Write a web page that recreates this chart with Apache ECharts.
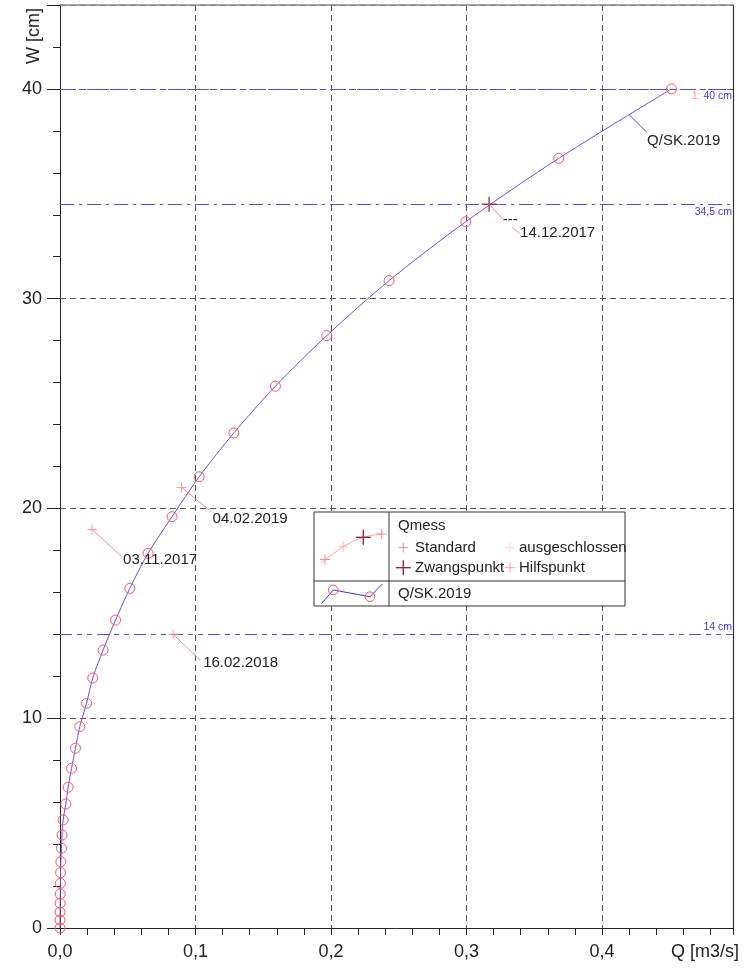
<!DOCTYPE html>
<html><head><meta charset="utf-8">
<script src="https://cdn.jsdelivr.net/npm/echarts@6/dist/echarts.min.js"></script>
<style>html,body{margin:0;padding:0;background:#fff}#c{width:748px;height:969px}</style>
</head><body><div id="c"></div>
<script>
// ---- data ----
const curveQ = [0, 0, 0.0001, 0.0001, 0.0002, 0.0003, 0.0004, 0.0006, 0.0011, 0.0015, 0.0023, 0.0043, 0.0060, 0.0085, 0.0114, 0.0146, 0.0196, 0.0242, 0.0318, 0.0410, 0.0515, 0.0650, 0.0827, 0.1027, 0.1283, 0.1590, 0.1969, 0.2429, 0.2995, 0.3681, 0.4513];
const curveW = [0, 0.38, 0.76, 1.18, 1.62, 2.13, 2.64, 3.16, 3.80, 4.43, 5.15, 5.91, 6.71, 7.61, 8.57, 9.60, 10.71, 11.92, 13.25, 14.68, 16.19, 17.86, 19.61, 21.51, 23.60, 25.83, 28.24, 30.86, 33.67, 36.69, 40.0];
const curveName = 'Q/SK.2019';
const curveLabelQ = [0.420];
const curveLabelW = [38.77];

const messQ = [0.0897, 0.0237, 0.0835];
const messW = [21.0, 19.0, 14.0];
const messDates = ['04.02.2019', '03.11.2017', '16.02.2018'];

const zwangQ = [0.3167];
const zwangW = [34.5];
const zwangDates = ['14.12.2017'];

const refLevels = [40, 34.5, 14, 0];
const refLabels = ['40 cm', '34,5 cm', '14 cm', '0 cm'];
const refPrefix = ['1: ', '', '', '1: '];

const xMax = 0.4967;
const yMax = 44;
const xTickLabels = ['0,0', '0,1', '0,2', '0,3', '0,4'];
const yTickLabels = ['0', '10', '20', '30', '40'];
const xAxisTitle = 'Q [m3/s]';
const yAxisTitle = 'W [cm]';
const legendTitle = 'Qmess';
const legendItems = ['Standard', 'ausgeschlossen', 'Zwangspunkt', 'Hilfspunkt'];

// ---- styles ----
const FONT = "'Liberation Sans', Arial, sans-serif";
const CROSS = 'path://M4.5,0H5.5V4.5H10V5.5H5.5V10H4.5V5.5H0V4.5H4.5Z';
const PINK = '#ff8a8a';
const DARKRED = '#8e1b2b';
const CURVE = '#6a4ff0';
const REFBLUE = '#4d4dff';

// annotation layout (pixel offsets relative to annotated point)
const annLayout = [
  {lx: 18, ly: 17.7, tx: 18, ty: 26, color: REFBLUE},
  {lx: 30, ly: 24.4, tx: 31, ty: 31, color: PINK},
  {lx: 29.4, ly: 27, tx: 31, ty: 30, color: PINK},
  {lx: 26.7, ly: 25.7, tx: 30, ty: 29, color: PINK},
  {lx: 13.3, ly: 14.3, tx: 31, ty: 28.5, color: PINK, extra: true}
];
const annData = [
  [curveLabelQ[0], curveLabelW[0], curveName],
  ...messQ.map((q, i) => [q, messW[i], messDates[i]]),
  ...zwangQ.map((q, i) => [q, zwangW[i], zwangDates[i]])
];

const chart = echarts.init(document.getElementById('c'), null, {renderer: 'canvas'});

const LZ = 60;
function plus(cx, cy, s, color, w) {
  const h = s / 2;
  return [
    {type: 'line', z: LZ + 2, shape: {x1: cx - h, y1: cy, x2: cx + h, y2: cy}, style: {stroke: color, lineWidth: w || 1}},
    {type: 'line', z: LZ + 2, shape: {x1: cx, y1: cy - h, x2: cx, y2: cy + h}, style: {stroke: color, lineWidth: w || 1}}
  ];
}
function txt(x, y, t, size) {
  return {type: 'text', z: LZ + 2, x: x, y: y, style: {text: t, font: (size || 15) + 'px ' + FONT, fill: '#222', verticalAlign: 'middle', align: 'left'}};
}

const legendGraphics = [
  {type: 'rect', z: LZ, shape: {x: 314, y: 512, width: 311, height: 94}, style: {fill: '#fff', stroke: '#333', lineWidth: 1}},
  {type: 'line', z: LZ + 1, shape: {x1: 389, y1: 512, x2: 389, y2: 606}, style: {stroke: '#333', lineWidth: 1}},
  {type: 'line', z: LZ + 1, shape: {x1: 314, y1: 581, x2: 625, y2: 581}, style: {stroke: '#333', lineWidth: 1}},
  {type: 'polyline', z: LZ + 1, shape: {points: [[321, 563], [343, 547], [363, 537.5], [383, 534]], smooth: 0.4}, style: {stroke: '#ffa5a5', lineWidth: 1, fill: null}},
  ...plus(325, 559.5, 10, PINK), ...plus(343.3, 546.7, 10, '#ffb8b8'), ...plus(363.3, 537.3, 15, DARKRED, 1.3), ...plus(381.7, 534, 10, PINK),
  {type: 'polyline', z: LZ + 1, shape: {points: [[321.7, 603.3], [333.3, 590], [370, 596.7], [382.3, 584]]}, style: {stroke: '#3535ff', lineWidth: 1, fill: null}},
  {type: 'circle', z: LZ + 2, shape: {cx: 333.3, cy: 590, r: 4.8}, style: {stroke: '#ff5555', fill: null, lineWidth: 1}},
  {type: 'circle', z: LZ + 2, shape: {cx: 370, cy: 596.7, r: 4.8}, style: {stroke: '#ff5555', fill: null, lineWidth: 1}},
  txt(398, 525.7, legendTitle),
  ...plus(403.3, 547.7, 10, PINK), txt(415, 548, legendItems[0]),
  ...plus(510, 547.7, 10, '#ffd8d8'), txt(519, 548, legendItems[1]),
  ...plus(403.3, 567.7, 15, DARKRED, 1.3), txt(415, 568, legendItems[2]),
  ...plus(510, 567.7, 10, '#ff9e9e'), txt(519, 568, legendItems[3]),
  txt(398, 593.5, curveName)
];

const option = {
  animation: false,
  backgroundColor: '#fff',
  textStyle: {fontFamily: FONT},
  grid: {left: 60, right: 15, top: 5, bottom: 41, containLabel: false},
  xAxis: [{
    type: 'value', min: 0, max: xMax, interval: 0.1,
    axisLine: {show: true, onZero: false, lineStyle: {color: '#222', width: 1}},
    axisTick: {show: true, inside: false, length: 7, lineStyle: {color: '#222'}},
    minorTick: {show: true, splitNumber: 5, length: 7, lineStyle: {color: '#222'}},
    axisLabel: {fontSize: 18, color: '#222', margin: 15, fontFamily: FONT, showMaxLabel: false,
      formatter: v => { const i = Math.round(v / 0.1); return (Math.abs(v - i * 0.1) < 1e-6 && i < xTickLabels.length) ? xTickLabels[i] : ''; }},
    splitLine: {show: true, lineStyle: {color: '#555', type: [6, 4], width: 1}}
  }, {
    type: 'value', min: 0, max: xMax, position: 'top',
    axisLine: {show: true, onZero: false, lineStyle: {color: '#8a8a8a', width: 1.5}},
    axisTick: {show: false}, axisLabel: {show: false}, splitLine: {show: false}
  }],
  yAxis: [{
    type: 'value', min: 0, max: yMax, interval: 10,
    axisLine: {show: true, onZero: false, lineStyle: {color: '#222', width: 1}},
    axisTick: {show: true, length: 13, lineStyle: {color: '#222'}},
    minorTick: {show: true, splitNumber: 5, length: 7, lineStyle: {color: '#222'}},
    axisLabel: {fontSize: 18, color: '#222', margin: 18, fontFamily: FONT, showMaxLabel: false,
      formatter: v => { const i = Math.round(v / 10); return (Math.abs(v - i * 10) < 1e-6 && i < yTickLabels.length) ? yTickLabels[i] : ''; }},
    splitLine: {show: true, lineStyle: {color: '#555', type: [6, 4], width: 1}}
  }, {
    type: 'value', min: 0, max: yMax, position: 'right',
    axisLine: {show: true, onZero: false, lineStyle: {color: '#333', width: 1.2}},
    axisTick: {show: false}, axisLabel: {show: false}, splitLine: {show: false}
  }],
  graphic: [
    {type: 'text', x: 34, y: 36, rotation: Math.PI / 2, style: {text: yAxisTitle, font: '18px ' + FONT, fill: '#222', align: 'center', verticalAlign: 'middle'}},
    {type: 'text', x: 739, y: 952, style: {text: xAxisTitle, font: '18px ' + FONT, fill: '#222', align: 'right', verticalAlign: 'middle'}},
    ...legendGraphics
  ],
  series: [
    {
      type: 'line', name: 'refs', data: [], silent: true,
      markLine: {
        silent: true, symbol: 'none', animation: false,
        data: refLevels.map((lv, i) => ({
          yAxis: lv,
          lineStyle: {
            color: REFBLUE, width: 1, opacity: lv === 0 ? 0 : 1,
            type: i === 2 ? [12, 5, 5, 5, 5, 5] : [14, 5, 3, 5]
          },
          label: {
            show: true,
            position: (i === 2 || lv === 0) ? 'insideEndTop' : 'insideEndBottom',
            distance: [1, 2],
            formatter: (refPrefix[i] ? '{a|' + refPrefix[i] + '}' : '') + '{b|' + refLabels[i] + '}',
            rich: {
              a: {color: '#ff8fa8', fontSize: 10.5, fontFamily: FONT},
              b: {color: '#3a3af0', fontSize: 10.5, fontFamily: FONT}
            }
          }
        }))
      }
    },
    {
      type: 'line', name: curveName,
      data: curveQ.map((q, i) => [q, curveW[i]]),
      smooth: 0.3,
      symbol: 'circle', symbolSize: 10, showSymbol: true,
      lineStyle: {color: CURVE, width: 1},
      itemStyle: {color: 'rgba(0,0,0,0)', borderColor: '#ff5a5a', borderWidth: 1},
      z: 5
    },
    {
      type: 'scatter', name: 'Standard',
      data: messQ.map((q, i) => [q, messW[i]]),
      symbol: CROSS, symbolSize: 10,
      itemStyle: {color: PINK}, z: 6
    },
    {
      type: 'scatter', name: 'Zwangspunkt',
      data: zwangQ.map((q, i) => [q, zwangW[i]]),
      symbol: CROSS, symbolSize: 15,
      itemStyle: {color: DARKRED}, z: 7
    },
    {
      type: 'custom', name: 'annotations', silent: true, z: 8,
      data: annData,
      renderItem: (params, api) => {
        const i = params.dataIndex;
        const a = annLayout[i];
        const p = api.coord([api.value(0), api.value(1)]);
        const children = [
          {type: 'line', shape: {x1: p[0], y1: p[1], x2: p[0] + a.lx, y2: p[1] + a.ly}, style: {stroke: a.color, lineWidth: 1}},
          {type: 'text', x: p[0] + a.tx, y: p[1] + a.ty, style: {text: annData[i][2], font: '15px ' + FONT, fill: '#222', align: 'left', verticalAlign: 'middle'}}
        ];
        if (a.extra) {
          children.push({type: 'text', x: p[0] + 13.7, y: p[1] + 15.7, style: {text: '---', font: '15px ' + FONT, fill: '#222', align: 'left', verticalAlign: 'middle'}});
          children.push({type: 'line', shape: {x1: p[0] + 23.4, y1: p[1] + 23.3, x2: p[0] + 30.7, y2: p[1] + 29.3}, style: {stroke: a.color, lineWidth: 1}});
        }
        return {type: 'group', children: children};
      }
    }
  ]
};
chart.setOption(option);
</script>
</body></html>
